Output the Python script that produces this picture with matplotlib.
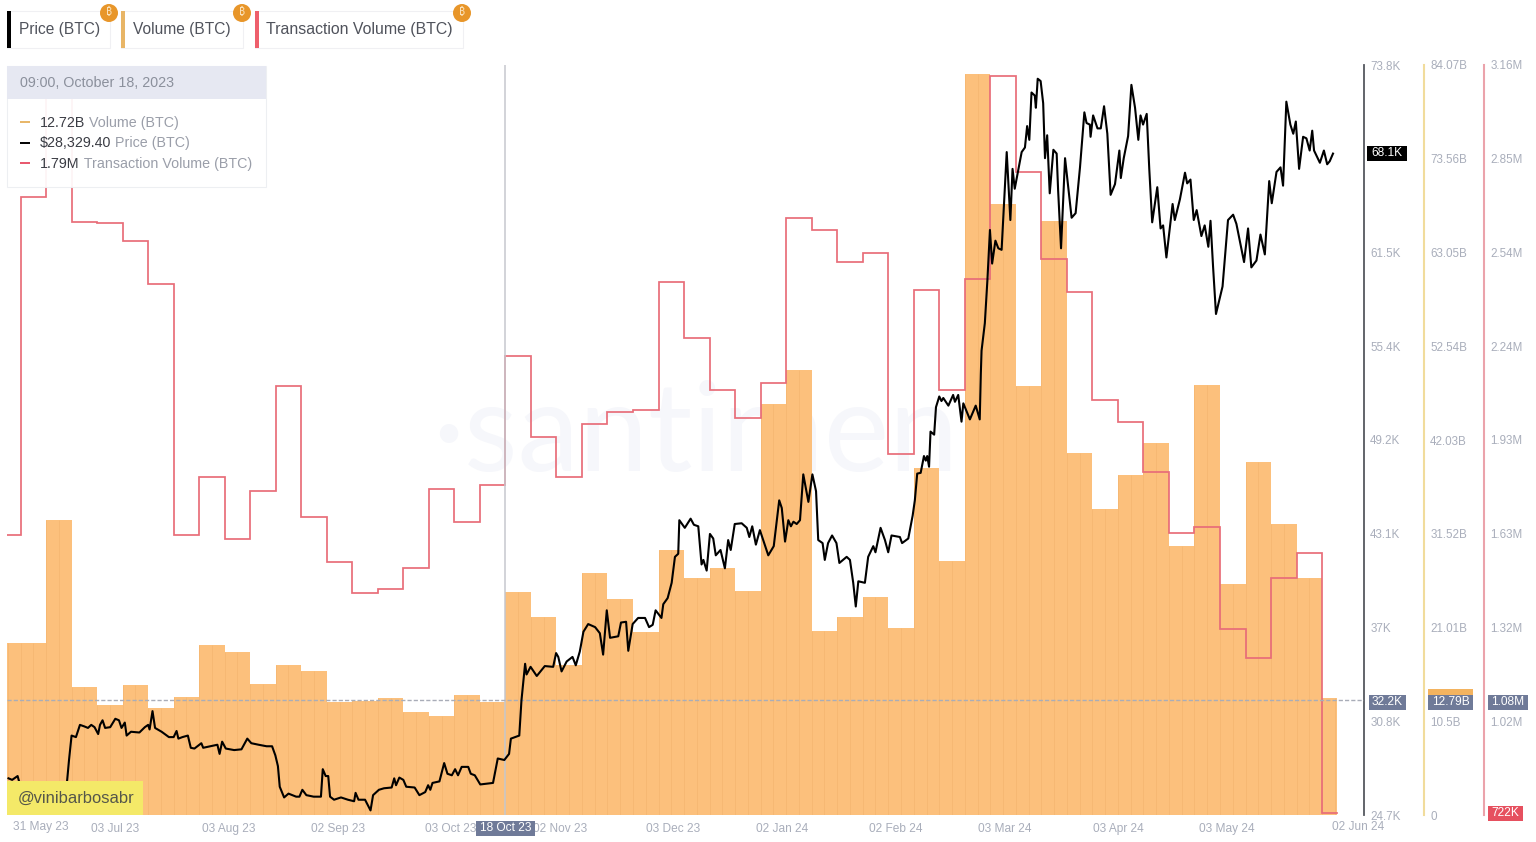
#!/usr/bin/env python3
# -*- coding: utf-8 -*-
# %% imports
import numpy as np
import pandas as pd
from matplotlib import pyplot as plt
from matplotlib.patches import Rectangle, Circle

plt.rcParams['font.family'] = ['Liberation Sans', 'DejaVu Sans']

# %% data
base_date = pd.Timestamp('2023-05-31')

# weekly values, one per week starting at base_date
volume_b = [19.3, 19.3, 33.1, 14.35, 12.3, 14.6, 12.0, 13.2, 19.1, 18.3,
            14.7, 16.8, 16.1, 12.7, 12.8, 13.1, 11.5, 11.1, 13.5, 12.7,
            25.0, 22.2, 16.8, 27.1, 24.2, 20.5, 29.7, 26.6, 27.7, 25.1,
            46.1, 49.9, 20.6, 22.2, 24.4, 21.0, 38.9, 28.5, 83.1, 68.5,
            48.1, 66.6, 40.6, 34.3, 38.1, 41.7, 30.2, 48.2, 25.9, 39.6,
            32.6, 26.6, 13.1]
tx_volume_m = [1.632, 2.731, 3.078, 2.649, 2.646, 2.588, 2.448, 1.632, 1.821, 1.619,
               1.775, 2.116, 1.691, 1.544, 1.444, 1.457, 1.525, 1.782, 1.674, 1.795,
               2.214, 1.951, 1.821, 1.993, 2.032, 2.038, 2.454, 2.272, 2.103, 2.012,
               2.126, 2.662, 2.623, 2.519, 2.549, 1.895, 2.428, 2.103, 2.464, 3.124,
               2.812, 2.529, 2.422, 2.071, 1.999, 1.837, 1.639, 1.658, 1.327, 1.232,
               1.492, 1.574, 0.728]
week_edges_days = [0, 7, 14, 21, 28, 35, 42, 49, 56, 63, 70, 77, 84, 91, 98, 105, 112, 119,
                   126, 133, 140, 147, 154, 161, 168, 175, 182, 189, 196, 203, 210, 217,
                   224, 231, 238, 245, 252, 259, 266, 273, 280, 287, 294, 301, 308, 315,
                   322, 329, 336, 343, 350, 357, 364, 368]

# price, days after base_date and thousands of dollars
price_days = [3.7, 4.7, 6.2, 6.6, 7.1, 13.2, 19.3, 19.8, 20.3, 21.0, 22.2, 23.3, 24.5, 25.5, 26.4,
              27.3, 28.3, 28.8, 29.5, 30.2, 31.6, 33.0, 34.0, 34.7, 35.6, 36.1, 37.3, 39.6, 41.1,
              42.0, 42.4, 43.2, 43.9, 45.7, 47.7, 49.0, 49.8, 50.3, 51.4, 52.9, 53.7, 54.7, 56.6,
              57.1, 59.0, 61.0, 61.6, 62.3, 63.3, 65.6, 67.6, 69.2, 70.3, 72.3, 74.5, 76.0, 76.9,
              77.6, 78.1, 79.3, 80.5, 82.6, 83.5, 84.3, 85.4, 87.4, 89.4, 89.9, 90.7, 91.4, 91.9,
              93.0, 94.9, 96.8, 98.5, 98.9, 99.7, 101.5, 103.0, 103.7, 105.3, 106.7, 108.8, 109.5,
              110.0, 110.9, 112.0, 112.8, 115.1, 116.4, 118.0, 118.8, 119.4, 120.0, 121.9, 123.2,
              124.1, 125.3, 126.2, 127.0, 128.0, 129.8, 130.5, 131.6, 133.1, 136.6, 137.9, 139.7,
              141.0, 141.5, 143.8,
              144.4, 145.4, 145.8, 146.9, 148.6, 150.8, 153.1, 153.9, 154.5, 155.4, 156.8, 158.4,
              159.3, 160.4, 161.4, 162.7, 164.6, 165.9, 166.8, 167.8, 168.7, 170.95, 171.7, 173.1,
              173.7, 174.9, 176.4, 178.3, 179.4, 180.4, 181.2, 182.8, 183.3, 184.5, 185.6, 186.5,
              187.4, 187.7, 189.2, 190.8, 191.7, 192.9, 193.8, 194.3, 195.2, 196.1, 197.0, 197.7,
              199.0, 200.2, 201.1, 201.8, 202.9, 204.8, 206.2, 206.9, 207.7, 208.7, 209.8, 210.7,
              212.1, 213.6, 215.1, 215.8, 216.7, 217.6, 218.3, 219.0, 219.9, 220.8, 221.7, 223.1,
              224.2, 225.2, 225.8, 227.0, 227.6, 228.5, 229.6, 230.8, 231.6, 233.6, 234.5, 235.4,
              236.1, 236.8, 238.6, 239.5, 240.9, 241.5, 242.9, 244.1, 245.0, 245.9, 248.2, 248.8,
              250.5, 251.7,
              252.3, 252.95, 253.9, 254.8, 255.3, 255.7, 256.2, 256.6, 257.6, 258.1, 259.0, 259.6,
              260.1, 261.5, 262.8, 263.3, 264.2, 265.1, 265.6, 267.4, 269.0, 270.1, 270.4, 270.6,
              271.5, 272.2, 272.9, 273.5, 274.4, 275.2, 276.1, 277.5, 278.5, 279.1, 279.7, 281.6,
              282.5, 283.1, 283.7, 284.3, 285.2, 285.5, 286.0, 286.8, 287.5, 288.0, 288.6, 289.3,
              290.3, 291.2, 291.6, 292.4, 293.5, 295.3, 296.4, 297.6, 298.8, 299.4, 300.3, 300.5,
              301.2, 302.4, 303.3, 304.2, 305.1, 306.0, 307.2, 308.4, 308.8, 309.6, 310.8, 311.7,
              312.7, 313.6, 314.2, 314.9, 315.9, 316.6, 317.4, 318.8, 319.7, 320.4, 321.3, 323.0,
              323.6, 325.0, 326.4, 327.0, 327.9, 328.8, 329.6, 330.9, 331.8, 332.8, 333.4, 334.1,
              334.9, 336.7, 338.2, 339.6, 340.5, 341.5, 342.6, 343.7, 344.6, 346.0, 347.1, 348.3,
              349.5, 350.2, 351.5, 352.6, 353.3, 354.2, 355.3, 356.1, 356.8, 357.7, 358.8, 359.7,
              360.6, 361.3, 361.8, 363.4, 364.5, 365.4, 366.1, 367.0]
price_k = [27.1, 27.0, 27.25, 26.9, 26.8, 25.7, 25.9, 27.0, 28.3, 29.9, 29.8, 30.6, 30.5, 30.4, 30.6,
           30.45, 30.0, 30.6, 30.9, 30.4, 30.45, 31.0, 30.9, 30.4, 30.75, 29.9, 30.15, 30.1, 30.45,
           30.6, 30.3, 31.5, 30.4, 30.15, 29.8, 29.8, 30.2, 29.7, 29.8, 29.9, 29.1, 29.05, 29.4,
           29.1, 29.2, 29.3, 28.7, 29.5, 29.05, 28.95, 29.0, 29.7, 29.4, 29.3, 29.2, 29.2, 28.6,
           27.9, 26.55, 25.85, 26.1, 25.9, 25.9, 26.35, 26.0, 25.9, 25.9, 27.7, 27.25, 27.25, 25.9,
           25.7, 25.85, 25.7, 25.6, 26.15, 25.7, 25.7, 25.0, 26.0, 26.35, 26.45, 26.5, 27.1,
           26.65, 27.15, 27.0, 26.55, 26.5, 26.0, 26.2, 26.65, 26.35, 26.8, 26.9, 28.1,
           27.4, 27.3, 27.7, 27.3, 27.85, 27.85, 27.4, 27.3, 26.7, 26.8, 28.4, 28.3,
           28.7, 29.7, 29.9,
           32.2, 34.6, 33.9, 34.4, 33.8, 34.45, 34.4, 35.3, 35.05, 34.1, 34.75, 35.05,
           34.5, 35.4, 36.7, 37.2, 37.0, 36.6, 35.2, 38.1, 36.3, 36.4, 37.3, 37.35,
           35.45, 37.2, 37.6, 37.6, 37.0, 37.15, 38.1, 37.6, 38.5, 38.9, 39.9, 41.6,
           41.8, 44.0, 43.5, 44.1, 43.7, 43.6, 41.1, 41.4, 40.7, 43.1, 42.8, 41.7,
           42.05, 40.85, 42.7, 42.05, 43.75, 43.8, 43.5, 42.9, 43.6, 42.4, 43.35, 42.7,
           41.7, 42.3, 45.3, 44.8, 42.6, 44.0, 43.6, 43.9, 43.75, 44.0, 47.0, 45.2,
           47.0, 45.9, 42.7, 42.5, 41.4, 42.5, 43.0, 42.5, 41.2, 41.6, 41.4, 39.9,
           38.35, 40.0, 39.9, 41.6, 42.3, 41.9, 43.5, 42.7, 41.9, 43.0, 42.9, 42.5,
           42.8, 44.3,
           45.3, 47.05, 47.1, 48.2, 47.9, 48.2, 47.5, 49.8, 49.6, 51.4, 52.1, 51.8,
           52.0, 51.5, 52.2, 51.75, 52.2, 50.45, 51.65, 50.6, 51.5, 50.6, 53.6, 55.1,
           56.9, 59.7, 63.0, 60.8, 62.3, 61.8, 61.7, 68.1, 63.65, 67.0, 65.7, 68.1,
           68.4, 69.8, 68.9, 72.0, 71.8, 71.0, 72.9, 72.75, 71.3, 67.7, 69.2, 65.4,
           68.25, 68.0, 65.6, 61.8, 67.7, 63.8, 64.1, 67.1, 70.7, 70.0, 69.9, 69.1,
           70.5, 69.65, 69.65, 71.1, 69.3, 65.3, 66.0, 68.2, 66.4, 67.7, 69.15, 72.5,
           71.0, 68.9, 70.5, 69.9, 70.6, 67.0, 63.5, 65.8, 63.1, 63.3, 61.2, 64.7,
           63.65, 65.0, 66.75, 66.05, 66.3, 63.65, 64.3, 62.6, 63.3, 61.9, 63.6, 60.6,
           57.5, 59.3, 63.65, 64.0, 63.4, 62.2, 60.9, 63.1, 60.55, 61.0, 62.7, 61.4,
           66.2, 64.75, 66.8, 67.1, 65.9, 71.4, 69.9, 69.3, 70.1, 67.0, 69.1, 69.0,
           68.2, 69.5, 68.2, 67.4, 68.2, 67.3, 67.5, 68.0]

# axis ticks
price_ticks = [24.7, 30.84, 36.97, 43.11, 49.25, 55.39, 61.52, 67.66, 73.8]
price_labels = ['24.7K', '30.8K', '37K', '43.1K', '49.2K', '55.4K', '61.5K', '', '73.8K']
volume_ticks = [0, 10.5, 21.01, 31.52, 42.03, 52.54, 63.05, 73.56, 84.07]
volume_labels = ['0', '10.5B', '21.01B', '31.52B', '42.03B', '52.54B', '63.05B', '73.56B', '84.07B']
tx_ticks = [1.027, 1.332, 1.637, 1.941, 2.246, 2.551, 2.855, 3.16]
tx_labels = ['1.02M', '1.32M', '1.63M', '1.93M', '2.24M', '2.54M', '2.85M', '3.16M']
date_ticks = ['2023-07-03', '2023-08-03', '2023-09-02', '2023-10-03', '2023-11-02', '2023-12-03',
              '2024-01-02', '2024-02-02', '2024-03-03', '2024-04-03', '2024-05-03']
date_labels = ['03 Jul 23', '03 Aug 23', '02 Sep 23', '03 Oct 23', '02 Nov 23', '03 Dec 23',
               '02 Jan 24', '02 Feb 24', '03 Mar 24', '03 Apr 24', '03 May 24']
hover_date = pd.Timestamp('2023-10-18')
hover_price = 32.2

# %% colours
bar_col = '#fcc07c'
stripe_col = '#f0b06a'
red_col = '#e86d79'
text_col = '#a9aebb'
tag_col = '#6f7a98'

# %% axes
W, H = 1536, 842
fig = plt.figure(figsize=(W / 100, H / 100), dpi=100)
ax_px = (7, 65, 1364, 815)  # left, top, right, bottom of plot area
ax = fig.add_axes([ax_px[0] / W, 1 - ax_px[3] / H, (ax_px[2] - ax_px[0]) / W, (ax_px[3] - ax_px[1]) / H])
ax_vol = ax.twinx()
ax_tx = ax.twinx()
ax_vol.set_zorder(1)
ax_tx.set_zorder(2)
ax.set_zorder(3)
ax.patch.set_visible(False)
ax_tx.patch.set_visible(False)

week_edges = base_date + pd.to_timedelta(week_edges_days, unit='D')
price_dates = base_date + pd.to_timedelta(price_days, unit='D')

# faint watermark behind everything
ax_vol.text(0.313, 0.505, '·santiment', transform=ax_vol.transAxes, fontsize=89, family='Lato',
            color='#f6f7fb', va='center', ha='left', zorder=0)

# volume bars and the thin stripes inside them
ax_vol.bar(week_edges[:-1], volume_b, width=np.diff(week_edges_days), align='edge', color=bar_col,
           linewidth=0, zorder=2)
stripe_days = np.arange(0, 368, 3.5)
stripe_vals = np.repeat(volume_b, 2)[:len(stripe_days)]
ax_vol.vlines(base_date + pd.to_timedelta(stripe_days, unit='D'), 0, stripe_vals, color=stripe_col,
              linewidth=0.5, alpha=0.7, zorder=3)

# transaction volume as steps
ax_tx.step(week_edges, tx_volume_m + [tx_volume_m[-1]], where='post', color=red_col, linewidth=1.25,
           solid_joinstyle='miter')

# price
ax.plot(price_dates, price_k, color='black', linewidth=1.5, solid_joinstyle='round', zorder=5)

# hover crosshair
ax.axvline(hover_date, color='#c6c8ce', linewidth=1.1, zorder=4)
ax.axhline(hover_price, color='#a9adb8', linewidth=1, linestyle=(0, (3, 1.5)), zorder=4)

# %% limits and scales
ax.set_xlim(base_date + pd.Timedelta(days=3.29), base_date + pd.Timedelta(days=375.5))
ax.set_ylim(24.7, 73.8)
ax_vol.set_ylim(0, 84.07)
ax_tx.set_ylim(0.722, 3.16)

for a in (ax, ax_vol, ax_tx):
    for s in ('top', 'left', 'bottom'):
        a.spines[s].set_visible(False)
    a.tick_params(axis='y', length=0, colors=text_col, labelsize=8.4)

ax.yaxis.tick_right()
ax.spines['right'].set_color('#55585f')
ax.spines['right'].set_linewidth(1.3)
ax.set_yticks(price_ticks, price_labels)
ax.tick_params(axis='y', pad=4.5)

ax_vol.spines['right'].set_position(('outward', 60 * 0.72))
ax_vol.spines['right'].set_color('#f1dc9c')
ax_vol.spines['right'].set_linewidth(1.5)
ax_vol.set_yticks(volume_ticks, volume_labels)
ax_vol.tick_params(axis='y', pad=4.5)

ax_tx.spines['right'].set_position(('outward', 120 * 0.72))
ax_tx.spines['right'].set_color('#eba3ab')
ax_tx.spines['right'].set_linewidth(1.5)
ax_tx.set_yticks(tx_ticks, tx_labels)
ax_tx.tick_params(axis='y', pad=4.5)

ax.set_xticks(pd.to_datetime(date_ticks), date_labels)
ax.tick_params(axis='x', length=0, colors=text_col, labelsize=8.6, pad=5.5)

# %% overlay for the ui parts, in pixels
ov = fig.add_axes([0, 0, 1, 1], zorder=10)
ov.set_xlim(0, W)
ov.set_ylim(H, 0)
ov.axis('off')

# the two date labels stuck to the ends of the axis
ov.text(41, 827, '31 May 23', fontsize=8.6, color=text_col, ha='center', va='center')
ov.text(1358, 827, '02 Jun 24', fontsize=8.6, color=text_col, ha='center', va='center')


def tag(x0, x1, y, txt, col, fc='white', h=15):
    ov.add_patch(Rectangle((x0, y - h / 2), x1 - x0, h, facecolor=col, edgecolor='none', zorder=3))
    ov.text((x0 + x1) / 2, y, txt, fontsize=8.6, color=fc, ha='center', va='center', zorder=4)


tag(1367, 1407, 153.5, '68.1K', 'black')
tag(1369, 1406, 702, '32.2K', tag_col)
ov.add_patch(Rectangle((1428, 689), 45, 8, facecolor='#f3b35f', edgecolor='none', zorder=2))
tag(1428, 1473, 702, '12.79B', tag_col)
tag(1488, 1528, 702, '1.08M', tag_col)
tag(1488, 1523, 813, '722K', '#e6505f')
tag(476, 535, 828, '18 Oct 23', tag_col)
ov.add_patch(Rectangle((476, 820.5), 30, 1, facecolor=tag_col, edgecolor='none', zorder=3))

# watermark handle
ov.add_patch(Rectangle((7, 781), 136, 34, facecolor='#f4e968', edgecolor='none'))
ov.text(18, 798, '@vinibarbosabr', fontsize=11.9, color='#55564a', va='center', ha='left')

# metric chips
chips = [(7, 110, 'Price (BTC)', 'black'),
         (121, 243, 'Volume (BTC)', '#e8b566'),
         (255, 463, 'Transaction Volume (BTC)', '#ee5f6c')]
for x0, x1, name, col in chips:
    ov.add_patch(Rectangle((x0, 11), x1 - x0, 37, facecolor='white', edgecolor='#f0f0f3', linewidth=0.8))
    ov.add_patch(Rectangle((x0, 11), 4, 37, facecolor=col, edgecolor='none'))
    ov.text(x0 + (10.5 if x0 == 255 else 12), 29.5, name, fontsize=11.4 if x0 == 255 else 11.2,
            color='#50535c', va='center', ha='left')
    ov.add_patch(Circle((x1 - 1, 13), 9, facecolor='#e8962a', edgecolor='none', zorder=3))
    ov.text(x1 - 1, 13, '\u20bf', fontsize=7.5, family=['Noto Sans', 'Inter', 'Roboto', 'Open Sans', 'Lato'],
            color='#fbe3bd', ha='center', va='center', zorder=4)

# tooltip
ov.add_patch(Rectangle((7, 66), 259, 121, facecolor='white', edgecolor='#eceef2', linewidth=0.8, alpha=0.93))
ov.add_patch(Rectangle((7, 66), 259, 33, facecolor='#e6e8f2', edgecolor='none'))
ov.text(20, 83.2, '09:00, October 18, 2023', fontsize=10.3, color='#8b909c', va='center', ha='left')
rows = [(122, '#e8b566', '12.72B', ' Volume (BTC)'),
        (142.5, 'black', '$28,329.40', ' Price (BTC)'),
        (163, '#e8566b', '1.79M', ' Transaction Volume (BTC)')]
for y, col, val, name in rows:
    ov.plot([20, 30], [y, y], color=col, linewidth=1.4, solid_capstyle='butt')
    t = ov.text(40, y + 0.7, val.replace('$', r'\$'), fontsize=10.3, color='#3a3c44', va='center', ha='left')
    fig.canvas.draw()
    bb = t.get_window_extent().transformed(ov.transData.inverted())
    ov.text(bb.x1, y + 0.7, name, fontsize=10.3, color='#9a9ea9', va='center', ha='left')

fig.savefig('out.png', dpi=100)
